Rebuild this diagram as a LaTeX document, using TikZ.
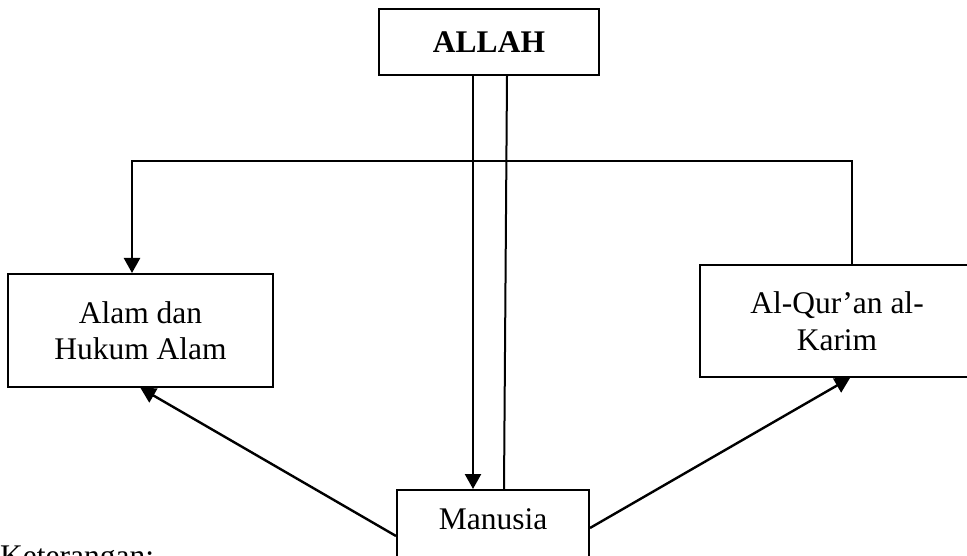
\documentclass[tikz,border=0pt]{standalone}
\usepackage{fontspec}
\setmainfont{Liberation Serif}
\usetikzlibrary{arrows.meta}
\begin{document}
\begin{tikzpicture}[x=1pt,y=-1pt,
  box/.style={draw, line width=2pt, inner sep=0pt, align=center,
    font=\fontsize{31.5}{36.5}\selectfont},
  arr/.style={line width=2.4pt, -{Triangle[length=15pt,width=16pt]}},
  plain/.style={line width=2pt},
  txt/.style={inner sep=0pt, font=\fontsize{31.5}{36.5}\selectfont}]
\path[use as bounding box] (0,0) rectangle (967,556);
\clip (0,0) rectangle (967,556);
\fill[white] (0,0) rectangle (967,556);
% nodes
\node[box, minimum width=220pt, minimum height=66pt, font=\fontsize{31.5}{36.5}\selectfont\bfseries] (allah) at (489,42) {ALLAH};
\node[box, minimum width=265pt, minimum height=113pt] (alam) at (140.5,330.5) {Alam dan\\Hukum Alam};
\node[box, minimum width=274pt, minimum height=112pt] (quran) at (837,321) {Al-Qur’an al-\\Karim};
\node[box, minimum width=192pt, minimum height=120pt, anchor=north] (man) at (493,489) {};
\node[txt] (mantext) at (493,519) {Manusia};
\node[txt, anchor=base west] (ket) at (0,566) {Keterangan:};
% connectors
\draw[arr] ([xshift=-16pt]allah.south) -- ([xshift=-20pt]man.north);
\draw[plain] ([xshift=11pt]man.north) -- ([xshift=18pt]allah.south);
\draw[arr] ([xshift=15pt]quran.north) -- ++(0,-103) -| ([xshift=-8.5pt]alam.north);
\draw[arr] ([yshift=-47pt]man.north west) -- (alam.south);
\draw[arr] ([yshift=-39pt]man.north east) -- ([xshift=13pt]quran.south);
\end{tikzpicture}
\end{document}
